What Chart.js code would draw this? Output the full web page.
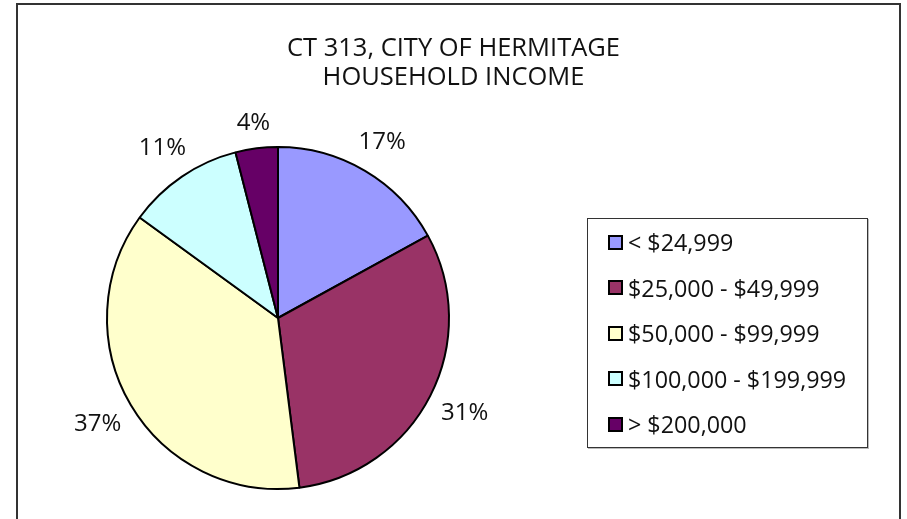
<!DOCTYPE html>
<html>
<head>
<meta charset="utf-8">
<script src="https://cdn.jsdelivr.net/npm/chart.js@4.4.1/dist/chart.umd.min.js"></script>
<style>
  body { margin: 0; background: #fff; overflow: hidden; font-family: "Open Sans", sans-serif; color: #111; }
  #frame { position: absolute; left: 16px; top: 3px; width: 881px; height: 560px; border: 2px solid #333; }
  #wrap { position: absolute; left: 0; top: 0; width: 907px; height: 519px; }
  #title { position: absolute; left: 0; top: 32px; width: 907px; text-align: center; font-size: 25.5px; line-height: 29px; }
  #legend { position: absolute; left: 587px; top: 218px; width: 279px; height: 228px; border: 1px solid #333;
            box-shadow: 1px 1px 0 #bbb; background: #fff; }
  .item { position: absolute; left: 20px; height: 26px; display: flex; align-items: center; font-size: 23.3px; white-space: nowrap; }
  .sw { width: 11px; height: 11px; border: 2px solid #000; margin-right: 5px; }
</style>
</head>
<body>
<div id="frame"></div>
<div id="wrap"><canvas id="myChart" width="907" height="519"></canvas></div>
<div id="title">CT 313, CITY OF HERMITAGE<br>HOUSEHOLD INCOME</div>
<div id="legend"></div>
<script>
let categories = ['< $24,999', '$25,000 - $49,999', '$50,000 - $99,999', '$100,000 - $199,999', '> $200,000'];
let shares = [17, 31, 37, 11, 4];
let slice_colors = ['#9999FF', '#993366', '#FFFFCC', '#CCFFFF', '#660066'];

// legend rows, built from the same arrays
let legend = document.getElementById('legend');
categories.forEach(function (c, i) {
    let row = document.createElement('div');
    row.className = 'item';
    row.style.top = (10 + i * 45.6) + 'px';
    let sw = document.createElement('span');
    sw.className = 'sw';
    sw.style.background = slice_colors[i];
    let txt = document.createElement('span');
    txt.textContent = c;
    row.appendChild(sw);
    row.appendChild(txt);
    legend.appendChild(row);
});

// percent labels just outside each slice
let outsideLabels = {
    id: 'outsideLabels',
    afterDatasetsDraw(chart) {
        let ctx = chart.ctx;
        let meta = chart.getDatasetMeta(0);
        ctx.save();
        ctx.font = '24px "Open Sans", sans-serif';
        ctx.fillStyle = '#111';
        ctx.textAlign = 'center';
        ctx.textBaseline = 'middle';
        meta.data.forEach(function (arc, i) {
            let p = arc.getProps(['x', 'y', 'startAngle', 'endAngle', 'outerRadius'], true);
            let mid = (p.startAngle + p.endAngle) / 2;
            let dx = Math.cos(mid), dy = Math.sin(mid);
            let text = shares[i] + '%';
            let halfW = ctx.measureText(text).width / 2;
            let d = p.outerRadius + 13 + Math.abs(dx) * halfW + Math.abs(dy) * 10;
            ctx.fillText(text, p.x + dx * d, p.y + dy * d);
        });
        ctx.restore();
    }
};

let myChart = new Chart('myChart', {
    type: 'pie',
    data: {
        labels: categories,
        datasets: [
            {
                data: shares,
                backgroundColor: slice_colors,
                borderColor: '#000',
                borderWidth: 2
            }
        ]
    },
    options: {
        responsive: false,
        animation: false,
        layout: {
            padding: { left: 106, right: 457, top: 146, bottom: 29 }
        },
        plugins: {
            legend: { display: false },
            title: { display: false },
            tooltip: { enabled: false }
        }
    },
    plugins: [outsideLabels]
});
</script>
</body>
</html>
